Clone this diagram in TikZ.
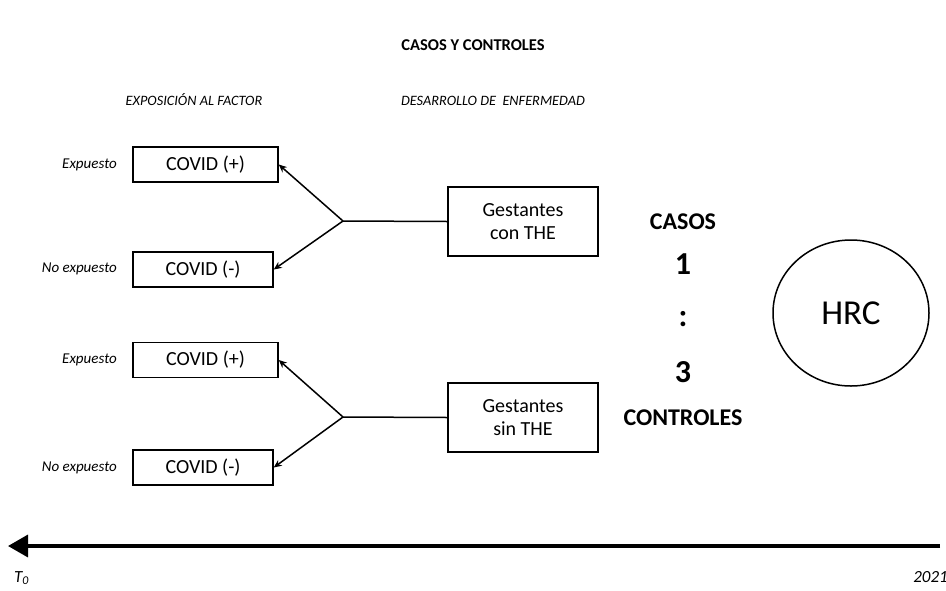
\documentclass[tikz,border=0pt]{standalone}
\usepackage{fontspec}
\setmainfont{Carlito}
\usetikzlibrary{arrows.meta,shapes.geometric}
\begin{document}
\begin{tikzpicture}[x=1pt,y=-1pt,
  box/.style={draw,line width=1.5pt,inner sep=0pt,minimum height=35pt,font=\fontsize{20}{22}\selectfont},
  gbox/.style={draw,line width=1.5pt,inner sep=0pt,minimum width=150pt,minimum height=69pt,align=center,font=\fontsize{20}{23}\selectfont},
  lab/.style={font=\fontsize{15}{17}\selectfont\itshape,inner sep=0pt},
  axlab/.style={font=\fontsize{17}{19}\selectfont\itshape,inner sep=0pt},
  head/.style={font=\fontsize{14.3}{16}\selectfont\itshape,inner sep=0pt,anchor=base},
  ratio/.style={font=\fontsize{24}{26}\selectfont\bfseries,inner sep=0pt},
  num/.style={font=\fontsize{32}{34}\selectfont\bfseries,inner sep=0pt},
  conn/.style={line width=1.5pt},
  arr/.style={line width=1.5pt,-{Stealth[length=8pt,width=7pt]}}
]
\useasboundingbox (0,0) rectangle (946,590);
\node[font=\fontsize{16.5}{18}\selectfont\bfseries] (title) at (473,45) {CASOS Y CONTROLES};
\node[head] (hexp) at (194,105) {EXPOSICIÓN AL FACTOR};
\node[head] (hdes) at (493,105) {DESARROLLO DE\ \ ENFERMEDAD};
% group 1
\node[box,minimum width=145pt] (c1) at (205.5,164.5) {COVID (+)};
\node[box,minimum width=140pt] (c2) at (203,269.5) {COVID (-)};
\node[gbox] (g1) at (523,221.5) {Gestantes\\con THE};
\coordinate (j1) at (343,221);
\node[lab,anchor=east] (e1) at (117,165) {Expuesto};
\node[lab,anchor=east] (n1) at (117,269) {No expuesto};
\draw[conn] (g1.west) -- (j1);
\draw[arr] (j1) -- (c1.east);
\draw[arr] (j1) -- (c2.east);
% group 2
\node[box,minimum width=145pt] (c3) at (205.5,360) {COVID (+)};
\node[box,minimum width=140pt] (c4) at (203,467.5) {COVID (-)};
\node[gbox] (g2) at (523,417.5) {Gestantes\\sin THE};
\coordinate (j2) at (343,417);
\node[lab,anchor=east] (e2) at (117,360) {Expuesto};
\node[lab,anchor=east] (n2) at (117,468) {No expuesto};
\draw[conn] (g2.west) -- (j2);
\draw[arr] (j2) -- (c3.east);
\draw[arr] (j2) -- (c4.east);
% ratio
\node[ratio] (casos) at (683,222) {CASOS};
\node[num] (one) at (683,264) {1};
\node[num] (colon) at (683,319) {:};
\node[num] (three) at (683,372) {3};
\node[ratio] (ctrl) at (683,418) {CONTROLES};
% HRC
\node[draw,ellipse,line width=1.5pt,minimum width=156pt,minimum height=146pt,font=\fontsize{35}{38}\selectfont] (hrc) at (851,313) {HRC};
% time axis
\coordinate (tend) at (940,546);
\coordinate (tstart) at (8,546);
\draw[line width=3.5pt,-{Triangle[length=20pt,width=22pt]}] (tend) -- (tstart);
\node[axlab,anchor=base west] (t0) at (14,582) {T\textsubscript{0}};
\node[axlab,anchor=base east] (y2021) at (948,582) {2021};
\end{tikzpicture}
\end{document}
